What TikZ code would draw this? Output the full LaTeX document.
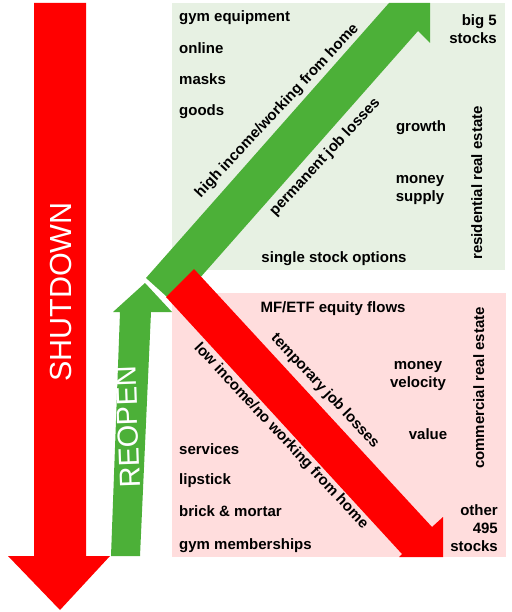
\documentclass[tikz,border=0pt]{standalone}
\usepackage{fontspec}
\setmainfont{Liberation Sans}
\definecolor{arrowred}{RGB}{255,0,0}
\definecolor{arrowgreen}{RGB}{76,176,56}
\definecolor{greenbg}{RGB}{231,241,227}
\definecolor{pinkbg}{RGB}{255,221,221}
\begin{document}
\begin{tikzpicture}[x=1pt,y=-1pt,
  lbl/.style={font=\bfseries\fontsize{15}{18}\selectfont, inner sep=0pt, text height=11pt, text depth=3pt},
  lbls/.style={font=\bfseries\fontsize{15}{18}\selectfont, inner sep=0pt},
  bigword/.style={text=white, font=\fontsize{30.5}{31}\selectfont, inner sep=0pt}]
\useasboundingbox (0,0) rectangle (511,612);

% panels
\fill[greenbg] (172,3) rectangle (505,270);
\fill[pinkbg] (172,293) rectangle (506,557);

% arrows
\fill[arrowred] (34,3) -- (86,3) -- (86,556) -- (110,556) -- (60,610) -- (8,556) -- (34,556) -- cycle;
\fill[arrowgreen] (111,556) -- (140,556) -- (151,312) -- (172,312) -- (145,283) -- (113,312) -- (120,312) -- cycle;
\fill[arrowgreen] (146,278) -- (389,3) -- (430,3) -- (430,43) -- (418,31) -- (176,305) -- cycle;
\fill[arrowred] (166,297) -- (194,269) -- (432,527) -- (443,517) -- (443,557) -- (399,557) -- (402,554) -- cycle;

\node[bigword, rotate=90] (shutdown) at (61,292) {SHUTDOWN};
\node[bigword, rotate=92, font=\fontsize{29}{29}\selectfont] (reopen) at (128,427) {REOPEN};

% green panel
\node[lbl, anchor=west] (gymequip) at (179,18) {gym equipment};
\node[lbl, anchor=west] (online) at (179,50) {online};
\node[lbl, anchor=west] (masks) at (179,81) {masks};
\node[lbl, anchor=west] (goods) at (179,112) {goods};
\node[lbls, align=right, anchor=east] (bigfive) at (497,29) {big 5\\stocks};
\node[lbl] (growth) at (421,128) {growth};
\node[lbls, align=center] (supply) at (420,190) {money\\supply};
\node[lbl] (options) at (334,258) {single stock options};
\node[lbl, rotate=90] (residential) at (478,183) {residential real estate};
\node[lbl, rotate=47] (highincome) at (277,111) {high income/working from home};
\node[lbl, rotate=47] (permanent) at (325,157) {permanent job losses};

% pink panel
\node[lbl, anchor=center] (flows) at (333,308) {MF/ETF equity flows};
\node[lbl, rotate=-47] (temporary) at (325,391) {temporary job losses};
\node[lbl, rotate=-47] (lowincome) at (281,436) {low income/no working from home};
\node[lbls, align=center] (velocity) at (418,376) {money\\velocity};
\node[lbl] (value) at (428,435) {value};
\node[lbl, rotate=90] (commercial) at (480,388) {commercial real estate};
\node[lbls, align=right, anchor=east] (other) at (498,528) {other\\495\\stocks};
\node[lbl, anchor=west] (services) at (179,450) {services};
\node[lbl, anchor=west] (lipstick) at (179,480) {lipstick};
\node[lbl, anchor=west] (brick) at (179,512) {brick \& mortar};
\node[lbl, anchor=west] (gymmember) at (179,545) {gym memberships};
\end{tikzpicture}
\end{document}
